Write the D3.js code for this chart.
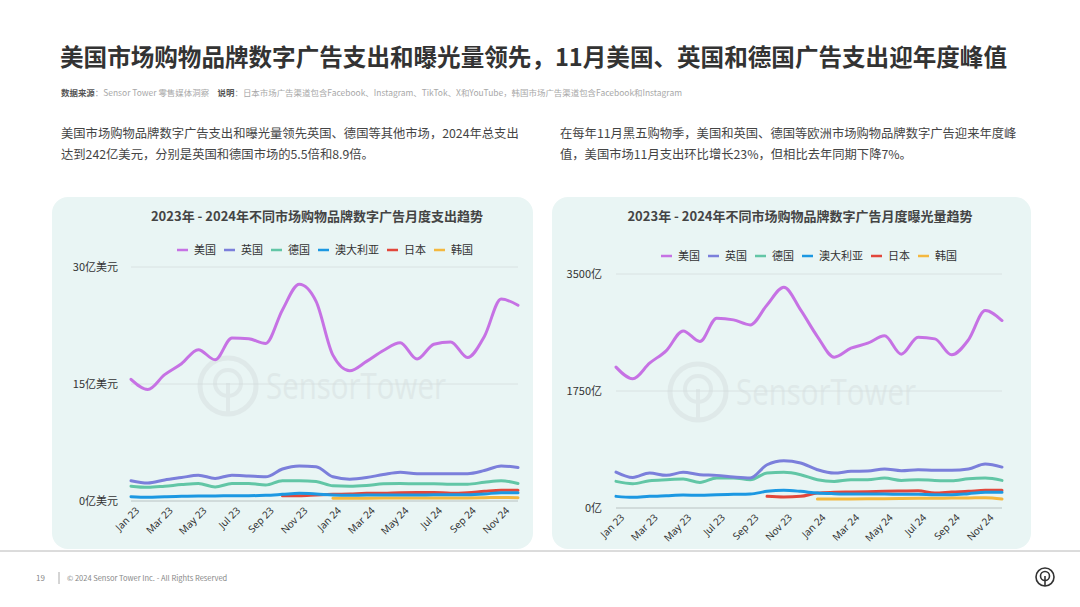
<!DOCTYPE html>
<html><head><meta charset="utf-8">
<script src="https://cdn.jsdelivr.net/npm/d3@7"></script>
<style>
body{margin:0;background:#fff;}
svg{display:block;font-family:"Noto Sans CJK SC","Noto Sans",sans-serif;}
</style></head>
<body>
<svg id="c" width="1080" height="607"></svg>
<script>
const months = ["Jan 23","Feb 23","Mar 23","Apr 23","May 23","Jun 23","Jul 23","Aug 23","Sep 23","Oct 23","Nov 23","Dec 23",
"Jan 24","Feb 24","Mar 24","Apr 24","May 24","Jun 24","Jul 24","Aug 24","Sep 24","Oct 24","Nov 24","Dec 24"];
const tickMonths = ["Jan 23","Mar 23","May 23","Jul 23","Sep 23","Nov 23","Jan 24","Mar 24","May 24","Jul 24","Sep 24","Nov 24"];
const seriesNames = ["美国","英国","德国","澳大利亚","日本","韩国"];
const seriesColors = ["#c672e4","#7b7fdb","#62c6a6","#1c98e2","#e2473b","#f4b83f"];

// spend, 亿美元
const spendUS = [15.6,14.3,16.2,17.6,19.4,18.1,20.9,20.8,20.2,24.5,27.8,25.6,18.7,16.7,17.9,19.3,20.3,18.2,20.1,20.4,18.4,21.1,25.9,25.1];
const spendUK = [2.6,2.3,2.7,3.0,3.3,2.9,3.3,3.2,3.1,4.1,4.5,4.4,3.1,2.8,3.0,3.4,3.7,3.5,3.5,3.5,3.5,3.9,4.5,4.3];
const spendDE = [1.9,1.75,1.9,2.1,2.25,1.8,2.25,2.25,2.05,2.6,2.6,2.5,1.95,1.9,2.0,2.2,2.25,2.2,2.2,2.15,2.15,2.4,2.6,2.25];
const spendAU = [0.56,0.47,0.56,0.6,0.64,0.64,0.68,0.68,0.73,0.85,0.98,0.9,0.77,0.73,0.77,0.77,0.77,0.77,0.8,0.8,0.81,0.9,1.07,1.07];
const spendJP = [null,null,null,null,null,null,null,null,null,0.68,0.68,0.77,0.85,0.9,0.98,1.0,1.07,1.1,1.1,1.0,1.07,1.24,1.37,1.37];
const spendKR = [null,null,null,null,null,null,null,null,null,null,null,null,0.34,0.35,0.36,0.37,0.38,0.38,0.39,0.4,0.4,0.42,0.45,0.43];
const spendTicks = [0,15,30];

// impressions, 亿
const impUS = [2107,1932,2166,2355,2649,2490,2839,2814,2739,3038,3302,2963,2565,2256,2390,2465,2575,2301,2555,2530,2291,2515,2953,2804];
const impUK = [538,458,523,488,533,498,488,463,448,647,707,672,573,523,548,553,583,558,573,563,563,583,657,612];
const impDE = [398,364,408,423,433,383,448,448,423,523,533,498,423,398,423,423,448,413,423,413,408,438,448,413];
const impAU = [174,159,174,184,194,189,199,204,209,249,264,249,224,214,209,209,209,204,204,199,199,214,234,234];
const impJP = [null,null,null,null,null,null,null,null,null,174,164,174,224,234,239,244,249,254,259,224,239,249,264,264];
const impKR = [null,null,null,null,null,null,null,null,null,null,null,null,134,134,136,138,140,142,144,146,148,150,154,134];
const impTicks = [0,1750,3500];

const svg = d3.select("#c");

// Title
svg.append("text").attr("x",60).attr("y",66).attr("font-size",23.5).attr("font-weight",700).attr("fill","#333")
  .attr("textLength",947).attr("lengthAdjust","spacingAndGlyphs")
  .text("美国市场购物品牌数字广告支出和曝光量领先，11月美国、英国和德国广告支出迎年度峰值");

// source line
const src = svg.append("text").attr("x",61).attr("y",96).attr("font-size",8.3).attr("fill","#a8a8a8")
  .attr("textLength",621).attr("lengthAdjust","spacingAndGlyphs");
src.append("tspan").attr("font-weight",700).attr("fill","#555").text("数据来源");
src.append("tspan").text("：Sensor Tower 零售媒体洞察　");
src.append("tspan").attr("font-weight",700).attr("fill","#555").text("说明");
src.append("tspan").text("：日本市场广告渠道包含Facebook、Instagram、TikTok、X和YouTube，韩国市场广告渠道包含Facebook和Instagram");

// paragraphs
const para = [
  {x:61, lines:["美国市场购物品牌数字广告支出和曝光量领先英国、德国等其他市场，2024年总支出","达到242亿美元，分别是英国和德国市场的5.5倍和8.9倍。"]},
  {x:560, lines:["在每年11月黑五购物季，美国和英国、德国等欧洲市场购物品牌数字广告迎来年度峰","值，美国市场11月支出环比增长23%，但相比去年同期下降7%。"]}
];
para.forEach(p=>{
  p.lines.forEach((l,i)=>{
    svg.append("text").attr("x",p.x).attr("y",138+i*21).attr("font-size",12.3).attr("fill","#444").text(l);
  });
});

// footer
svg.append("line").attr("x1",0).attr("x2",1080).attr("y1",551).attr("y2",551).attr("stroke","#b8b8b8").attr("stroke-width",1);
svg.append("text").attr("x",36).attr("y",581).attr("font-size",8).attr("fill","#888").text("19");
svg.append("line").attr("x1",59).attr("x2",59).attr("y1",572).attr("y2",584).attr("stroke","#aaa");
svg.append("text").attr("x",67).attr("y",581).attr("font-size",7.5).attr("fill","#888").text("© 2024 Sensor Tower Inc. - All Rights Reserved");
const fl = svg.append("g").attr("transform","translate(1045,577)");
fl.append("circle").attr("r",9).attr("fill","none").attr("stroke","#333").attr("stroke-width",1.6);
fl.append("circle").attr("r",4.5).attr("cy",-1).attr("fill","none").attr("stroke","#333").attr("stroke-width",1.6);
fl.append("line").attr("x1",0).attr("x2",0).attr("y1",-1).attr("y2",9).attr("stroke","#333").attr("stroke-width",1.6);

function watermark(g, cx, cy){
  const w = g.append("g").attr("opacity",0.45);
  w.append("circle").attr("cx",cx).attr("cy",cy).attr("r",28).attr("fill","none").attr("stroke","#d3dcdc").attr("stroke-width",5);
  w.append("circle").attr("cx",cx).attr("cy",cy-3).attr("r",13).attr("fill","none").attr("stroke","#d3dcdc").attr("stroke-width",4);
  w.append("line").attr("x1",cx).attr("x2",cx).attr("y1",cy-3).attr("y2",cy+28).attr("stroke","#d3dcdc").attr("stroke-width",4);
  w.append("text").attr("x",cx+38).attr("y",cy+13).attr("font-size",36).attr("fill","#d3dcdc").attr("font-weight",500)
    .attr("font-family","'Open Sans',sans-serif").attr("textLength",180).attr("lengthAdjust","spacingAndGlyphs").text("SensorTower");
}

function chart(opt){
  const g = svg.append("g");
  g.append("rect").attr("x",opt.px).attr("y",197).attr("width",opt.pw).attr("height",352).attr("rx",16)
    .attr("fill","#e9f5f4");
  g.append("text").attr("x",opt.tx).attr("y",221).attr("text-anchor","middle").attr("font-size",13).attr("font-weight",700)
    .attr("fill","#444").text(opt.title);
  const x = d3.scalePoint().domain(months).range(opt.xr);
  const y = d3.scaleLinear().domain(opt.yd).range(opt.yr);

  // grid
  g.selectAll(".grid").data(opt.ticks.filter(t=>t>0)).join("line")
    .attr("x1",opt.xr[0]).attr("x2",opt.xr[1]).attr("y1",d=>y(d)).attr("y2",d=>y(d))
    .attr("stroke","#d9e2e2").attr("stroke-width",1);
  g.append("line").attr("x1",opt.xr[0]).attr("x2",opt.xr[1]).attr("y1",y(0)).attr("y2",y(0))
    .attr("stroke","#b9c2c2").attr("stroke-width",1);

  watermark(g, opt.wx, opt.wy);

  // y labels
  const ya = d3.axisLeft(y).tickValues(opt.ticks).tickSize(0).tickFormat(opt.fmt);
  const yg = g.append("g").attr("transform",`translate(${opt.ylx},0)`).call(ya);
  yg.select(".domain").remove();
  yg.selectAll("text").attr("font-size",11).attr("fill","#333").attr("font-family","'Noto Sans CJK SC',sans-serif");

  // x labels
  const xa = d3.axisBottom(x).tickValues(tickMonths).tickSize(0);
  const xg = g.append("g").attr("transform",`translate(0,${y(0)+6})`).call(xa);
  xg.select(".domain").remove();
  xg.selectAll("text").attr("font-size",10).attr("fill","#333").attr("font-family","'Noto Sans','Open Sans',sans-serif")
    .attr("text-anchor","end").attr("dx","0.3em").attr("dy","0.6em").attr("transform","rotate(-45)");

  // legend
  const lg = g.append("g").attr("transform",`translate(${opt.lx},${opt.ly})`);
  let cx = 0;
  seriesNames.forEach((n,i)=>{
    lg.append("line").attr("x1",cx).attr("x2",cx+11).attr("y1",0).attr("y2",0).attr("stroke",seriesColors[i]).attr("stroke-width",2.5);
    lg.append("text").attr("x",cx+17).attr("y",4).attr("font-size",11).attr("fill","#333").text(n);
    cx += 17 + n.length*11 + 8;
  });

  // lines
  const line = d3.line().defined(d=>d!=null).x((d,i)=>x(months[i])).y(d=>y(d)).curve(d3.curveMonotoneX);
  const order = [5,4,3,2,1,0];
  order.forEach(i=>{
    g.append("path").datum(opt.data[i]).attr("d",line).attr("fill","none")
      .attr("stroke",seriesColors[i]).attr("stroke-width",3).attr("stroke-linejoin","round").attr("stroke-linecap","round");
  });
}

chart({px:52,pw:481,title:"2023年 - 2024年不同市场购物品牌数字广告月度支出趋势",tx:317,
  xr:[131,518],yd:[0,30],yr:[501,267],ticks:spendTicks,fmt:d=>d+"亿美元",ylx:121,
  lx:177,ly:250,wx:228,wy:386,
  data:[spendUS,spendUK,spendDE,spendAU,spendJP,spendKR]});
chart({px:552,pw:479,title:"2023年 - 2024年不同市场购物品牌数字广告月度曝光量趋势",tx:800,
  xr:[616,1002],yd:[0,3500],yr:[508,274],ticks:impTicks,fmt:d=>d+"亿",ylx:605,
  lx:661,ly:256,wx:698,wy:392,
  data:[impUS,impUK,impDE,impAU,impJP,impKR]});
</script>
</body></html>
